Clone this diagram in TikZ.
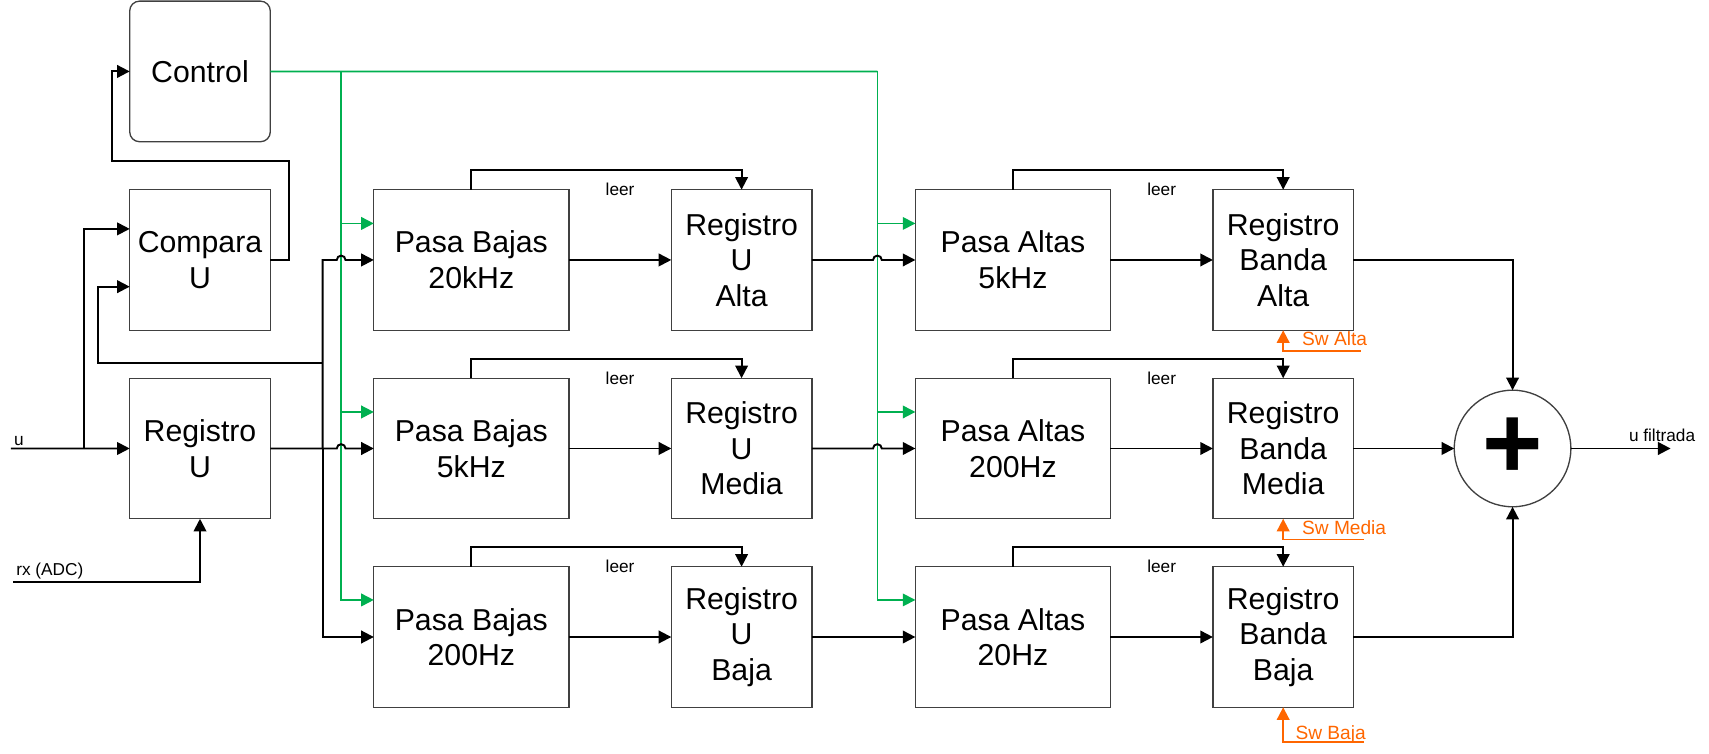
\documentclass[tikz,border=0pt]{standalone}
\usepackage{fontspec}
\setmainfont{Liberation Sans}
\usetikzlibrary{arrows.meta,positioning,calc}
\definecolor{ctrlgreen}{RGB}{0,176,80}
\definecolor{sworange}{RGB}{255,102,0}
\definecolor{edgegray}{RGB}{64,64,64}
\tikzstyle{block} = [draw=edgegray, line width=0.7pt, rectangle, minimum width=2.58cm,
    minimum height=2.58cm, inner sep=0pt, outer sep=0pt, align=center,
    font=\fontsize{15.8}{18.6}\selectfont]
\tikzstyle{filt} = [block, minimum width=3.58cm]
\tikzstyle{sumnode} = [draw=edgegray, line width=0.7pt, circle, minimum size=2.14cm,
    inner sep=0pt, outer sep=0pt, font=\fontsize{54}{54}\selectfont\bfseries]
\tikzstyle{wire} = [line width=1pt, -{Triangle[length=6.6pt,width=6.6pt]}]
\tikzstyle{ctrlwire} = [wire, draw=ctrlgreen, line width=0.9pt]
\tikzstyle{swwire} = [wire, draw=sworange]
\tikzstyle{lbltext} = [inner sep=1.5pt, font=\fontsize{9}{10}\selectfont]
\tikzstyle{swtext} = [inner sep=0pt, text=sworange, font=\fontsize{10}{11}\selectfont]

\begin{document}
\begin{tikzpicture}[x=0.02cm, y=0.02cm]
\useasboundingbox (0,0) rectangle (1568,-691);
% bloques
\node[block] (comp) at (183.5,-238.5) {Compara\\U};
\node[block, rounded corners=0.18cm, above=0.88cm of comp] (ctrl) {Control};
\node[block, below=0.88cm of comp] (regu) {Registro\\U};
\node[filt, right=1.9cm of comp] (pb1) {Pasa Bajas\\20kHz};
\node[filt, below=0.88cm of pb1] (pb2) {Pasa Bajas\\5kHz};
\node[filt, below=0.88cm of pb2] (pb3) {Pasa Bajas\\200Hz};
\node[block, right=1.88cm of pb1] (rua) {Registro\\U\\Alta};
\node[block, right=1.88cm of pb2] (rum) {Registro\\U\\Media};
\node[block, right=1.88cm of pb3] (rub) {Registro\\U\\Baja};
\node[filt, right=1.9cm of rua] (pa1) {Pasa Altas\\5kHz};
\node[filt, right=1.9cm of rum] (pa2) {Pasa Altas\\200Hz};
\node[filt, right=1.9cm of rub] (pa3) {Pasa Altas\\20Hz};
\node[block, right=1.88cm of pa1] (rba) {Registro\\Banda\\Alta};
\node[block, right=1.88cm of pa2] (rbm) {Registro\\Banda\\Media};
\node[block, right=1.88cm of pa3] (rbb) {Registro\\Banda\\Baja};
\node[sumnode, right=1.85cm of rbm] (sum) {+};

% control (verde)
\draw[ctrlgreen, line width=0.9pt] (ctrl.east) -- (805,-65.5);
\draw[ctrlwire] (313,-65.5) |- ($(pb3.west)+(0,34)$);
\draw[ctrlwire] (313,-205) -- ($(pb1.west)+(0,33.5)$);
\draw[ctrlwire] (313,-378) -- ($(pb2.west)+(0,33.5)$);
\draw[ctrlwire] (805,-65.5) |- ($(pa3.west)+(0,34)$);
\draw[ctrlwire] (805,-205) -- ($(pa1.west)+(0,33.5)$);
\draw[ctrlwire] (805,-378) -- ($(pa2.west)+(0,33.5)$);

% entradas
\coordinate (uin) at (10,-411.5);
\coordinate (rxin) at (12,-534);
\coordinate (j1) at (77,-411.5);
\coordinate (bus) at (296,-411.5);
\draw[wire] (uin) -- (regu);
\node[lbltext, anchor=south west] at (uin) {u};
\draw[wire] (j1) |- ($(comp.west)+(0,28.5)$);
\draw[wire] (rxin) -| (regu.south);
\node[lbltext, anchor=south west] at (rxin) {rx (ADC)};
\draw[wire] (comp.east) -- (265,-238.5) |- (103,-148) |- (ctrl.west);

% salida de Registro U
\draw[wire] (regu.east) -- (309,-411.5) arc[start angle=180, end angle=0, radius=4] -- (pb2.west);
\draw[wire] (bus) -- (296,-238.5) -- (309,-238.5) arc[start angle=180, end angle=0, radius=4] -- (pb1.west);
\draw[wire] (bus) |- (pb3.west);
\draw[wire] (296,-333) -- (90,-333) |- ($(comp.west)+(0,-24.5)$);

% pasa bajas -> registros -> pasa altas
\draw[wire] (pb1) -- (rua);
\draw[wire] (pb2) -- (rum);
\draw[wire] (pb3) -- (rub);
\draw[wire] (rua.east) -- (801,-238.5) arc[start angle=180, end angle=0, radius=4] -- (pa1.west);
\draw[wire] (rum.east) -- (801,-411.5) arc[start angle=180, end angle=0, radius=4] -- (pa2.west);
\draw[wire] (rub) -- (pa3);
\draw[wire] (pa1) -- (rba);
\draw[wire] (pa2) -- (rbm);
\draw[wire] (pa3) -- (rbb);

% leer
\draw[wire] (pb1.north) -- ++(0,18) -| (rua.north);
\draw[wire] (pb2.north) -- ++(0,18) -| (rum.north);
\draw[wire] (pb3.north) -- ++(0,18) -| (rub.north);
\draw[wire] (pa1.north) -- ++(0,18) -| (rba.north);
\draw[wire] (pa2.north) -- ++(0,18) -| (rbm.north);
\draw[wire] (pa3.north) -- ++(0,18) -| (rbb.north);
\node[lbltext] at ($(pb1.north east)!0.5!(rua.north west)$) {leer};
\node[lbltext] at ($(pb2.north east)!0.5!(rum.north west)$) {leer};
\node[lbltext] at ($(pb3.north east)!0.5!(rub.north west)$) {leer};
\node[lbltext] at ($(pa1.north east)!0.5!(rba.north west)$) {leer};
\node[lbltext] at ($(pa2.north east)!0.5!(rbm.north west)$) {leer};
\node[lbltext] at ($(pa3.north east)!0.5!(rbb.north west)$) {leer};

% conmutadores
\draw[swwire] ($(rba.south)+(71,-19)$) -| (rba.south);
\draw[swwire] ($(rbm.south)+(74,-19)$) -| (rbm.south);
\draw[swwire] ($(rbb.south)+(74,-32)$) -| (rbb.south);
\node[swtext, anchor=base west] at ($(rba.south)+(17,-14)$) {Sw Alta};
\node[swtext, anchor=base west] at ($(rbm.south)+(17,-14.5)$) {Sw Media};
\node[swtext, anchor=base west] at ($(rbb.south)+(11,-30)$) {Sw Baja};

% suma
\draw[wire] (rba.east) -| (sum.north);
\draw[wire] (rbm.east) -- (sum.west);
\draw[wire] (rbb.east) -| (sum.south);
\coordinate[right=1.83cm of sum.east] (uout);
\draw[wire] (sum.east) -- (uout);
\node[lbltext, inner sep=0pt, anchor=base west] at ($(sum.east)+(53,6)$) {u filtrada};
\end{tikzpicture}
\end{document}
